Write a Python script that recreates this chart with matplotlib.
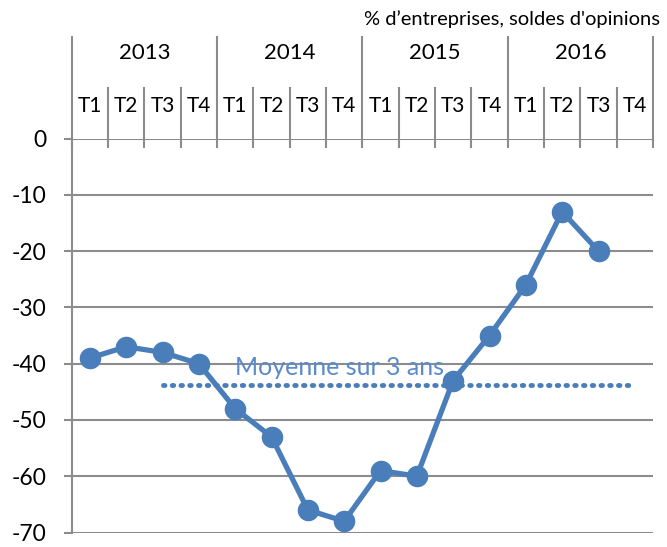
import matplotlib
matplotlib.use("Agg")
import matplotlib.pyplot as plt
from matplotlib.transforms import blended_transform_factory

years = ["2013", "2014", "2015", "2016"]
quarters = ["T1", "T2", "T3", "T4"]
values = [-39, -37, -38, -40, -48, -53, -66, -68, -59, -60, -43, -35, -26, -13, -20]
moyenne = -43.8
moyenne_start, moyenne_end = 2, 15
y_ticks = [0, -10, -20, -30, -40, -50, -60, -70]
title = "% d\u2019entreprises, soldes d'opinions"
moy_label = "Moyenne sur 3 ans"

plt.rcParams['font.family'] = ['Lato', 'DejaVu Sans']

W, H = 667, 547
fig = plt.figure(figsize=(W / 100, H / 100), dpi=100)
left, right, top, bottom = 71.7, 653, 138.5, 532.5
ax = fig.add_axes([left / W, 1 - bottom / H, (right - left) / W, (bottom - top) / H])

blue = "#4A7EBB"
grey = "#8C8C8C"
n = len(years) * len(quarters)
ax.set_xlim(0, n)
ax.set_ylim(-70, 0)

for s in ax.spines.values():
    s.set_visible(False)

# gridlines
for v in y_ticks:
    ax.axhline(v, color=grey, lw=1.5, zorder=1)

ax.set_yticks(y_ticks)
ax.set_yticklabels([str(v) for v in y_ticks], fontsize=16.5)
ax.tick_params(axis='y', length=6, width=1.5, color=grey, pad=12)
ax.set_xticks([])

ph = bottom - top
def yfrac(py):
    return 1 + (top - py) / ph

trans = blended_transform_factory(ax.transData, ax.transAxes)
# left axis line
ax.plot([0, 0], [0, yfrac(37)], transform=trans, color=grey, lw=1.5, clip_on=False, zorder=2)
# vertical separators
for i in range(1, n + 1):
    if i % 4 == 0:
        y0 = yfrac(37)
    else:
        y0 = yfrac(88)
    ax.plot([i, i], [yfrac(147), y0], transform=trans, color=grey, lw=1.5, clip_on=False, zorder=2)
ax.plot([0, 0], [yfrac(147), 1], transform=trans, color=grey, lw=1.5, clip_on=False)

# labels
for yi, yr in enumerate(years):
    ax.text(yi * 4 + 2, yfrac(53), yr, transform=trans, ha='center', va='center', fontsize=16, color='black')
    for qi, q in enumerate(quarters):
        ax.text(yi * 4 + qi + 0.5, yfrac(106), q, transform=trans, ha='center', va='center', fontsize=15, color='black')

# average dotted line
ax.plot([moyenne_start + 0.5, moyenne_end + 0.5], [moyenne, moyenne], color=blue, lw=3.5,
        linestyle=(0, (0.3, 1.5)), dash_capstyle='round', zorder=3)
ax.text(4.5, -42.0, moy_label, color="#5B8ACB", fontsize=18, ha='left', va='baseline', zorder=4)

# series
xs = [i + 0.5 for i in range(len(values))]
ax.plot(xs, values, color=blue, lw=3.8, marker='o', markersize=14.5, zorder=5, clip_on=False)

fig.text(660 / W, 1 - 19 / H, title, ha='right', va='center', fontsize=14.5, color='black')

fig.savefig("out.png", dpi=100)
